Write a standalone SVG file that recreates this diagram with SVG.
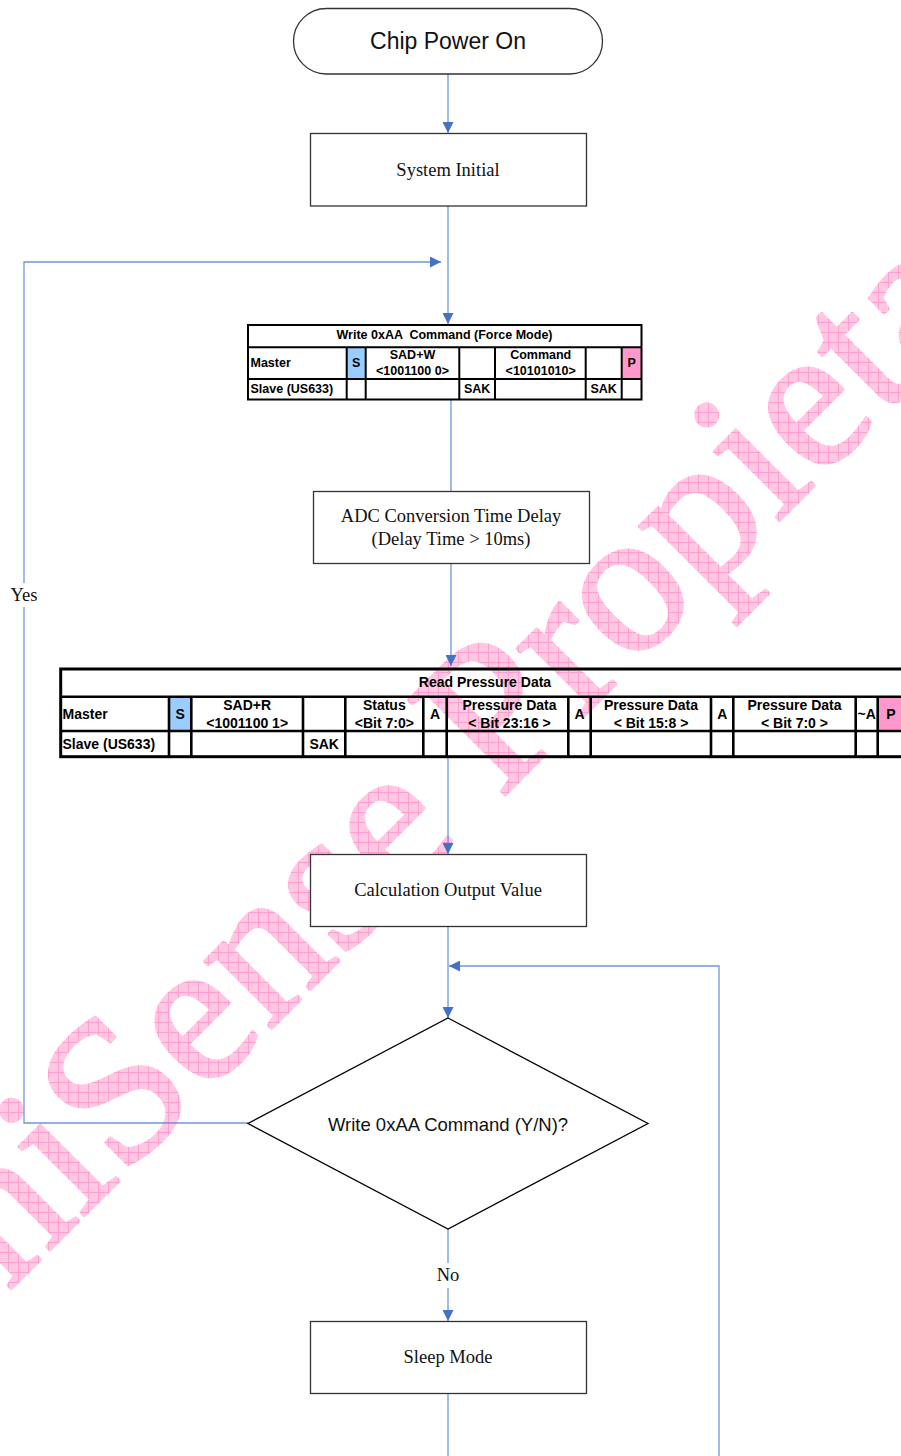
<svg xmlns="http://www.w3.org/2000/svg" width="901" height="1456" viewBox="0 0 901 1456">
<style>
.box{fill:#fff;stroke:#333;stroke-width:1.3}
.ser{font-family:"Liberation Serif","Times New Roman",serif;font-size:18.5px;fill:#111;text-anchor:middle;dominant-baseline:central}
.san{font-family:"Liberation Sans",Arial,sans-serif;fill:#111;text-anchor:middle;dominant-baseline:central}
.con{fill:none;stroke:#6f97d8;stroke-width:1.3}
.t1{fill:none;stroke:#000;stroke-width:2}
.t2{fill:none;stroke:#000;stroke-width:2.6}
.tb1{font-family:"Liberation Sans",Arial,sans-serif;font-weight:bold;font-size:12.5px;fill:#000;dominant-baseline:central}
.tb2{font-family:"Liberation Sans",Arial,sans-serif;font-weight:bold;font-size:14px;fill:#000;dominant-baseline:central}
.c{text-anchor:middle}
</style>
<defs>
<marker id="ah" markerUnits="userSpaceOnUse" markerWidth="11" markerHeight="11" refX="11" refY="5.5" orient="auto">
<path d="M0,0 L11,5.5 L0,11 z" fill="#4472c4"/>
</marker>
<pattern id="wm" patternUnits="userSpaceOnUse" width="10" height="10" patternTransform="rotate(45)">
<rect width="10" height="10" fill="#ffc8e2"/>
<path d="M0,0.5H10M0.5,0V10" stroke="#ff9fcf" stroke-width="1"/>
</pattern>
</defs>
<rect width="901" height="1456" fill="#fff"/>
<g id="watermark">
<text transform="translate(8,1292) rotate(-45)" font-family="Liberation Serif" font-size="207" fill="url(#wm)" stroke="url(#wm)" stroke-width="3" stroke-linejoin="round">niSense Propieta</text>
</g>
<g id="connectors">
<path class="con" d="M448,74 V133" marker-end="url(#ah)"/>
<path class="con" d="M448,206 V324" marker-end="url(#ah)"/>
<path class="con" d="M248,1123 H24 V607"/>
<path class="con" d="M24,583 V262 H441" marker-end="url(#ah)"/>
<path class="con" d="M451,400 V491"/>
<path class="con" d="M451,563 V666" marker-end="url(#ah)"/>
<path class="con" d="M448,757 V854" marker-end="url(#ah)"/>
<path class="con" d="M448,927 V1018" marker-end="url(#ah)"/>
<path class="con" d="M719,1456 V966 H449" marker-end="url(#ah)"/>
<path class="con" d="M448,1229 V1263"/>
<path class="con" d="M448,1288 V1321" marker-end="url(#ah)"/>
<path class="con" d="M448,1393 V1456"/>
<text class="ser" x="24" y="595" font-size="17">Yes</text>
<text class="ser" x="448" y="1275" font-size="17">No</text>
</g>
<g id="start">
<rect class="box" x="293.5" y="8.5" width="309" height="65.5" rx="33" ry="33"/>
<text class="san" x="448" y="41" font-size="23">Chip Power On</text>
</g>
<g id="init">
<rect class="box" x="310.5" y="133.5" width="276" height="72.5"/>
<text class="ser" x="448" y="169.5">System Initial</text>
</g>
<g id="write-table">
<rect x="346.7" y="347.3" width="19" height="31.7" fill="#99ccff"/>
<rect x="621.7" y="347.3" width="20" height="31.7" fill="#ff99cc"/>
<rect class="t1" x="248" y="325" width="393.5" height="74.5"/>
<path class="t1" d="M248,347.3 H641.5 M248,379 H641.5 M346.7,347.3 V399.5 M365.7,347.3 V399.5 M459.3,347.3 V399.5 M495,347.3 V399.5 M585.7,347.3 V399.5 M621.7,347.3 V399.5"/>
<text class="tb1 c" x="444.5" y="335" style="white-space:pre" xml:space="preserve">Write 0xAA  Command (Force Mode)</text>
<text class="tb1" x="250.5" y="362.7">Master</text>
<text class="tb1 c" x="356.2" y="362.7">S</text>
<text class="tb1 c" x="412.5" y="355">SAD+W</text>
<text class="tb1 c" x="412.5" y="371">&lt;1001100 0&gt;</text>
<text class="tb1 c" x="540.7" y="355">Command</text>
<text class="tb1 c" x="540.7" y="371">&lt;10101010&gt;</text>
<text class="tb1 c" x="631.7" y="362.7">P</text>
<text class="tb1" x="250.5" y="389.2">Slave (US633)</text>
<text class="tb1 c" x="477.2" y="389.2">SAK</text>
<text class="tb1 c" x="603.7" y="389.2">SAK</text>
</g>
<g id="adc">
<rect class="box" x="313.5" y="491.5" width="276" height="72"/>
<text class="ser" x="451" y="516">ADC Conversion Time Delay</text>
<text class="ser" x="451" y="539">(Delay Time &gt; 10ms)</text>
</g>
<g id="read-table">
<rect x="169" y="696.7" width="22.3" height="34.3" fill="#99ccff"/>
<rect x="877.7" y="696.7" width="26" height="34.3" fill="#ff99cc"/>
<rect x="60.7" y="669" width="850" height="87.7" fill="none" stroke="#000" stroke-width="3"/>
<path class="t2" d="M60.7,696.7 H905 M60.7,731 H905 M169,696.7 V756.7 M191.3,696.7 V756.7 M303,696.7 V756.7 M345.3,696.7 V756.7 M423.3,696.7 V756.7 M446.7,696.7 V756.7 M568.3,696.7 V756.7 M590.7,696.7 V756.7 M711,696.7 V756.7 M733.3,696.7 V756.7 M855.7,696.7 V756.7 M877.7,696.7 V756.7"/>
<text class="tb2 c" x="485" y="682">Read Pressure Data</text>
<text class="tb2" x="62.5" y="714">Master</text>
<text class="tb2 c" x="180.2" y="714">S</text>
<text class="tb2 c" x="247.2" y="704.5">SAD+R</text>
<text class="tb2 c" x="247.2" y="723">&lt;1001100 1&gt;</text>
<text class="tb2 c" x="384.3" y="704.5">Status</text>
<text class="tb2 c" x="384.3" y="723">&lt;Bit 7:0&gt;</text>
<text class="tb2 c" x="435" y="714">A</text>
<text class="tb2 c" x="509.5" y="704.5">Pressure Data</text>
<text class="tb2 c" x="509.5" y="723">&lt; Bit 23:16 &gt;</text>
<text class="tb2 c" x="579.5" y="714">A</text>
<text class="tb2 c" x="651" y="704.5">Pressure Data</text>
<text class="tb2 c" x="651" y="723">&lt; Bit 15:8 &gt;</text>
<text class="tb2 c" x="722.2" y="714">A</text>
<text class="tb2 c" x="794.5" y="704.5">Pressure Data</text>
<text class="tb2 c" x="794.5" y="723">&lt; Bit 7:0 &gt;</text>
<text class="tb2 c" x="866.7" y="714">~A</text>
<text class="tb2 c" x="891" y="714">P</text>
<text class="tb2" x="62.5" y="744">Slave (US633)</text>
<text class="tb2 c" x="324.2" y="744">SAK</text>
</g>
<g id="calc">
<rect class="box" x="310.5" y="854.5" width="276" height="72"/>
<text class="ser" x="448" y="890">Calculation Output Value</text>
</g>
<g id="decision">
<path d="M448,1018 L648,1123.5 L448,1229 L248,1123.5 Z" fill="#fff" stroke="#000" stroke-width="1.3"/>
<text class="san" x="448" y="1124" font-size="18.5">Write 0xAA Command (Y/N)?</text>
</g>
<g id="sleep">
<rect class="box" x="310.5" y="1321.5" width="276" height="72"/>
<text class="ser" x="448" y="1357">Sleep Mode</text>
</g>
</svg>
